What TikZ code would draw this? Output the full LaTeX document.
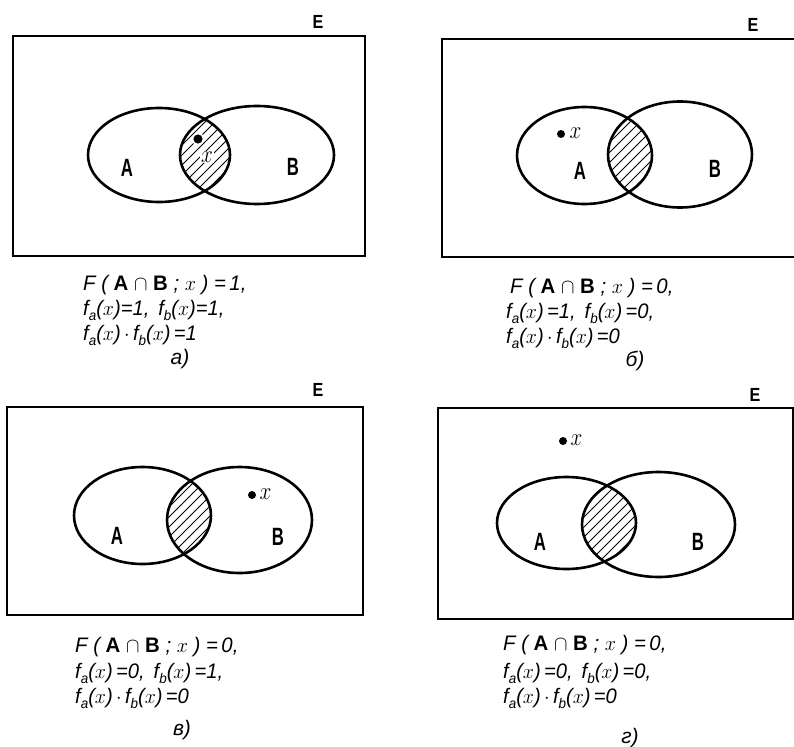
\documentclass[tikz,border=0pt]{standalone}
\usepackage{fontspec}
\setmainfont{Liberation Sans}
\newcommand\subt[1]{\raisebox{-0.26em}{\fontsize{14}{14}\selectfont\itshape #1}}
\newcommand\fsb[1]{\textit{f}\subt{#1}}
\newcommand\lineone[1]{\scalebox{0.97}[1]{F\;(\;\textup{\bfseries A}\;$\cap$\;\textup{\bfseries B}\;;\;$x$\;)\;=\,#1,}}
\begin{document}
\begin{tikzpicture}[x=1pt,y=-1pt,
  frame/.style={line width=1.8pt},
  setline/.style={line width=2.6pt},
  hatchline/.style={line width=1pt},
  setlbl/.style={font=\fontsize{25}{25}\selectfont\bfseries, inner sep=0pt},
  elbl/.style={font=\fontsize{19}{19}\selectfont\bfseries, inner sep=0pt},
  ptdot/.style={circle, fill=black, inner sep=0pt, minimum size=8pt},
  ptlbl/.style={font=\fontsize{26}{26}\selectfont, inner sep=0.5pt},
  fline/.style={font=\fontsize{21}{21}\selectfont\itshape, anchor=base west, inner sep=0pt},
  capt/.style={font=\fontsize{21}{21}\selectfont\itshape, anchor=base, inner sep=0pt}]
\useasboundingbox (0,0) rectangle (794,746);

% ---------------- panel a ----------------
\draw[frame] (13,36) rectangle (365,256);
\node[elbl] (Ea) at (318,22) {\scalebox{0.85}[1]{E}};
\begin{scope}
  \clip (159,155) ellipse [x radius=71, y radius=47];
  \clip (257,155) ellipse [x radius=77, y radius=49];
  \foreach \c in {-90,-80,...,90}
    \draw[hatchline] (205+\c-70,152+70) -- (205+\c+70,152-70);
\end{scope}
\draw[setline] (159,155) ellipse [x radius=71, y radius=47];
\draw[setline] (257,155) ellipse [x radius=77, y radius=49];
\node[ptdot, draw=white, line width=1.5pt, minimum size=11pt] (da) at (198,139) {};
\node[ptlbl, fill=white, inner sep=1pt, font=\fontsize{24}{24}\selectfont] (xa) at (207,157) {\scalebox{0.85}[1]{$x$}};
\node[setlbl] (Aa) at (127,168) {\scalebox{0.67}[1]{A}};
\node[setlbl] (Ba) at (293,167) {\scalebox{0.67}[1]{B}};
\node[fline] (a1) at (83,290) {\lineone{1}};
\node[fline] (a2) at (83,315) {\scalebox{0.96}[1]{\fsb{a}($x$)=1,\, \fsb{b}($x$)=1,}};
\node[fline] (a3) at (83,340) {\scalebox{0.96}[1]{\fsb{a}($x$)\,$\cdot$\,\fsb{b}($x$)\,=1}};
\node[capt] (ca) at (180,364) {а)};

% ---------------- panel b ----------------
\draw[frame] (794,39) -- (442,39) -- (442,257) -- (794,257);
\node[elbl] (Eb) at (753,25) {\scalebox{0.85}[1]{E}};
\begin{scope}
  \clip (584.5,155.5) ellipse [x radius=67.5, y radius=48.5];
  \clip (680,154.5) ellipse [x radius=72, y radius=53];
  \foreach \c in {-90,-80,...,90}
    \draw[hatchline] (630+\c-70,152+70) -- (630+\c+70,152-70);
\end{scope}
\draw[setline] (584.5,155.5) ellipse [x radius=67.5, y radius=48.5];
\draw[setline] (680,154.5) ellipse [x radius=72, y radius=53];
\node[ptdot] (db) at (561,134) {};
\node[ptlbl, anchor=west] (xb) at (569,133) {\scalebox{0.85}[1]{$x$}};
\node[setlbl] (Ab) at (580,171) {\scalebox{0.67}[1]{A}};
\node[setlbl] (Bb) at (715,169) {\scalebox{0.67}[1]{B}};
\node[fline] (b1) at (510,293) {\lineone{0}};
\node[fline] (b2) at (506,318) {\scalebox{0.96}[1]{\fsb{a}($x$)\,=1,\, \fsb{b}($x$)\,=0,}};
\node[fline] (b3) at (506,343) {\scalebox{0.96}[1]{\fsb{a}($x$)\,$\cdot$\,\fsb{b}($x$)\,=0}};
\node[capt] (cb) at (635,366) {б)};

% ---------------- panel v ----------------
\draw[frame] (7,407) rectangle (363,615);
\node[elbl] (Ec) at (318,390) {\scalebox{0.85}[1]{E}};
\begin{scope}
  \clip (142.5,515.5) ellipse [x radius=68.5, y radius=48.5];
  \clip (239.5,520) ellipse [x radius=72.5, y radius=53];
  \foreach \c in {-90,-80,...,90}
    \draw[hatchline] (189+\c-70,517+70) -- (189+\c+70,517-70);
\end{scope}
\draw[setline] (142.5,515.5) ellipse [x radius=68.5, y radius=48.5];
\draw[setline] (239.5,520) ellipse [x radius=72.5, y radius=53];
\node[ptdot] (dc) at (252,495) {};
\node[ptlbl, anchor=west] (xc) at (259,494) {\scalebox{0.85}[1]{$x$}};
\node[setlbl] (Ac) at (117,536) {\scalebox{0.67}[1]{A}};
\node[setlbl] (Bc) at (278,537) {\scalebox{0.67}[1]{B}};
\node[fline] (c1) at (75,652) {\lineone{0}};
\node[fline] (c2) at (75,678) {\scalebox{0.96}[1]{\fsb{a}($x$)\,=0,\, \fsb{b}($x$)\,=1,}};
\node[fline] (c3) at (75,703) {\scalebox{0.96}[1]{\fsb{a}($x$)\,$\cdot$\,\fsb{b}($x$)\,=0}};
\node[capt] (cc) at (182,735) {в)};

% ---------------- panel g ----------------
\draw[frame] (438,408) rectangle (793,619);
\node[elbl] (Ed) at (755,395) {\scalebox{0.85}[1]{E}};
\begin{scope}
  \clip (566.5,523) ellipse [x radius=69.5, y radius=46];
  \clip (658.5,524.5) ellipse [x radius=76.5, y radius=52.5];
  \foreach \c in {-90,-80,...,90}
    \draw[hatchline] (609+\c-70,522+70) -- (609+\c+70,522-70);
\end{scope}
\draw[setline] (566.5,523) ellipse [x radius=69.5, y radius=46];
\draw[setline] (658.5,524.5) ellipse [x radius=76.5, y radius=52.5];
\node[ptdot] (dd) at (563,441) {};
\node[ptlbl, anchor=west] (xd) at (570,440) {\scalebox{0.85}[1]{$x$}};
\node[setlbl] (Ad) at (540,542) {\scalebox{0.67}[1]{A}};
\node[setlbl] (Bd) at (698,542) {\scalebox{0.67}[1]{B}};
\node[fline] (d1) at (503,650) {\lineone{0}};
\node[fline] (d2) at (503,678) {\scalebox{0.96}[1]{\fsb{a}($x$)\,=0,\, \fsb{b}($x$)\,=0,}};
\node[fline] (d3) at (503,703) {\scalebox{0.96}[1]{\fsb{a}($x$)\,$\cdot$\,\fsb{b}($x$)\,=0}};
\node[capt] (cd) at (630,743) {г)};
\end{tikzpicture}
\end{document}
